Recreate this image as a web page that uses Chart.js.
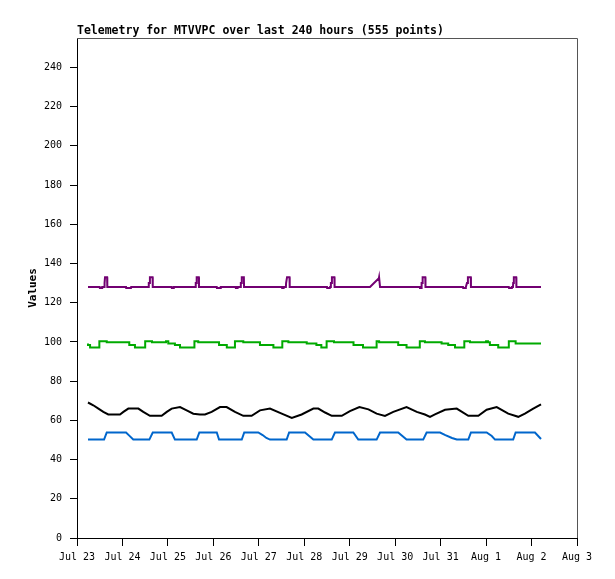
<!DOCTYPE html>
<html>
<head>
<meta charset="utf-8">
<script src="https://cdn.jsdelivr.net/npm/chart.js@4/dist/chart.umd.min.js"></script>
<style>
  body { margin: 0; background: #fff; }
  canvas { display: block; }
</style>
</head>
<body>
<canvas id="telemetry" width="615" height="579"></canvas>
<script>
// hours since Jul 23 00:00
const dayLabels = ['Jul 23', 'Jul 24', 'Jul 25', 'Jul 26', 'Jul 27', 'Jul 28',
  'Jul 29', 'Jul 30', 'Jul 31', 'Aug 1', 'Aug 2', 'Aug 3'];

const purpleHours = [5.8, 12, 12.1, 13.2, 13.3, 14.3, 14.4, 14.7, 14.8, 15.9, 16,
  25.9, 26, 28.5, 28.6, 37.8, 37.9, 38.4, 38.5, 39.9, 40,
  50, 50.1, 51, 51.1, 62.6, 62.7, 63.1, 63.2, 64.3, 64.4,
  73.8, 73.9, 75.8, 75.9, 83.8, 83.9, 84.7, 84.8, 86.4, 86.5, 86.9, 87, 88.1, 88.2,
  108.2, 108.3, 109, 109.1, 110.3, 110.4, 110.8, 110.9, 112.2, 112.3,
  132, 132.1, 133.5, 133.6, 134, 134.1, 134.5, 134.6, 135.9, 136,
  154.7, 159.4, 159.5, 159.9, 160,
  181, 181.1, 181.8, 181.9, 182, 182.4, 182.5, 183.9, 184,
  203.8, 203.9, 205.2, 205.3, 205.9, 206.3, 206.4, 207.9, 208,
  228, 228.1, 229.5, 229.6, 230.2, 230.3, 230.6, 230.7, 231.9, 232, 245];
const purpleValues = [128, 128, 127.5, 127.5, 128, 128, 130, 130, 133, 133, 128,
  128, 127.5, 127.5, 128, 128, 130, 130, 133, 133, 128,
  128, 127.5, 127.5, 128, 128, 130, 130, 133, 133, 128,
  128, 127.5, 127.5, 128, 128, 127.5, 127.5, 128, 128, 130, 130, 133, 133, 128,
  128, 127.5, 127.5, 128, 128, 130, 130, 133, 133, 128,
  128, 127.5, 127.5, 128, 128, 130, 130, 133, 133, 128,
  128, 132.5, 133, 133, 128,
  128, 127.5, 127.5, 128, 130, 130, 133, 133, 128,
  128, 127.5, 127.5, 128, 130, 130, 133, 133, 128,
  128, 127.5, 127.5, 128, 128, 130, 130, 133, 133, 128, 128];

const greenHours = [5.8, 6.9, 11.8, 15.7, 27.6, 30.6, 36, 39.6, 47, 48.2, 51.7, 54.4,
  62, 64, 75, 79.1, 83.4, 87.8, 96.6, 103.7, 108.4, 111.6, 121.3, 126.4, 129,
  131.8, 135.7, 146, 151, 158.2, 159.5, 169.6, 174, 181, 183.7, 192.5, 196,
  199.6, 204.5, 207.5, 216, 217, 218, 222.4, 228, 231.6, 242.7, 245];
const greenValues = [99.2, 98.4, 97.2, 100.4, 99.8, 98.4, 97.2, 100.4, 99.8, 100.4, 99.2, 98.4,
  97.2, 100.4, 99.8, 98.4, 97.2, 100.4, 99.8, 98.4, 97.2, 100.4, 99.8, 99.2, 98.4,
  97.2, 100.4, 99.8, 98.4, 97.2, 100.4, 99.8, 98.4, 97.2, 100.4, 99.8, 99.2,
  98.4, 97.2, 100.4, 99.8, 100.4, 99.8, 98.4, 97.2, 100.4, 99.2, 99.2];

const blackHours = [5.8, 8.6, 11.3, 13.9, 16.5, 22.7, 24.5, 27.1, 32.4, 35, 38.5, 44.7,
  47.4, 50, 54.4, 57.9, 61.4, 64.9, 67.6, 71.1, 75.5, 79, 83.4, 87.8, 92.2, 96.6,
  101.9, 108.1, 113.4, 118.6, 124.8, 127.4, 131, 134.5, 139.8, 144.1, 149.1, 153.9,
  158.2, 162.6, 167, 174, 179.4, 183.7, 186.4, 189, 194.3, 200.5, 206.6, 211.9,
  216.3, 221.6, 227.7, 233, 236.5, 240.9, 245];
const blackValues = [69.1, 67.7, 66, 64.3, 63, 63, 64.3, 66, 66, 64.3, 62.3, 62.3,
  64.3, 66, 66.8, 65.1, 63.4, 63, 63, 64.3, 66.8, 66.8, 64.3, 62.3, 62.3, 65.1,
  66, 63.4, 61.2, 63, 66, 66, 64, 62.3, 62.3, 64.7, 66.8, 65.6,
  63.4, 62.3, 64.3, 66.8, 64.3, 63, 61.8, 63, 65.4, 66, 62.3, 62.3,
  65.4, 66.8, 63.4, 61.8, 63.4, 66, 68.2];

const blueHours = [5.8, 14.3, 15.7, 25.9, 27.6, 29.7, 38.2, 40, 50, 51.7, 63.2, 64.6,
  73.8, 75, 87, 88.3, 95.7, 98, 100, 101.9, 110.7, 112, 120.4, 124.8, 134.5, 136.2,
  145.9, 148.5, 158.2, 160, 169.6, 174, 182.8, 184.6, 191.7, 194.5, 198, 200.5,
  206.6, 208, 216.3, 219, 220.7, 230.3, 231.6, 241.8, 245];
const blueValues = [50.2, 50.2, 53.8, 53.8, 52.2, 50.2, 50.2, 53.8, 53.8, 50.2, 50.2, 53.8,
  53.8, 50.2, 50.2, 53.8, 53.8, 52.5, 51, 50.2, 50.2, 53.8, 53.8, 50.2, 50.2, 53.8,
  53.8, 50.2, 50.2, 53.8, 53.8, 50.2, 50.2, 53.8, 53.8, 52.5, 51, 50.2,
  50.2, 53.8, 53.8, 52, 50.2, 50.2, 53.8, 53.8, 50.5];

const monoFont = "'DejaVu Sans Mono', 'Liberation Mono', monospace";

function toPoints (hours, values) {
  const pts = [];
  for (let i = 0; i < hours.length; i++) {
    pts.push({ x: hours[i], y: values[i] });
  }
  return pts;
}

/**
 * Title, y axis name and the grey top/right frame
 */
const frame = {
  id: 'frame',
  afterDraw (chart) {
    const ctx = chart.ctx;
    const a = chart.chartArea;
    ctx.save();
    ctx.strokeStyle = '#555';
    ctx.lineWidth = 1;
    ctx.beginPath();
    ctx.moveTo(a.left, a.top + 0.5);
    ctx.lineTo(a.right + 0.5, a.top + 0.5);
    ctx.lineTo(a.right + 0.5, a.bottom);
    ctx.stroke();

    ctx.fillStyle = '#000';
    ctx.font = 'bold 11.5px ' + monoFont;
    ctx.textAlign = 'left';
    ctx.textBaseline = 'alphabetic';
    ctx.fillText('Telemetry for MTVVPC over last 240 hours (555 points)', a.left, 34);

    ctx.font = 'bold 11px ' + monoFont;
    ctx.translate(36, (a.top + a.bottom) / 2);
    ctx.rotate(-Math.PI / 2);
    ctx.textAlign = 'center';
    ctx.fillText('Values', 0, 0);
    ctx.restore();
  }
};

const line = (label, color, hours, values, stepped) => ({
  label: label,
  data: toPoints(hours, values),
  borderColor: color,
  backgroundColor: color,
  borderWidth: 2,
  pointRadius: 0,
  tension: 0,
  stepped: stepped
});

const config = {
  type: 'line',
  data: {
    datasets: [
      line('purple', '#720072', purpleHours, purpleValues, false),
      line('green', '#00aa00', greenHours, greenValues, 'after'),
      line('black', '#000000', blackHours, blackValues, false),
      line('blue', '#0066cc', blueHours, blueValues, false)
    ]
  },
  options: {
    responsive: false,
    devicePixelRatio: 1,
    animation: false,
    layout: { padding: { left: 0, top: 38, right: 38, bottom: 0 } },
    plugins: {
      legend: { display: false },
      title: { display: false },
      tooltip: { enabled: false }
    },
    scales: {
      x: {
        type: 'linear',
        min: 0,
        max: 264,
        afterFit: s => { s.height = 41; },
        border: { color: '#000', width: 1 },
        grid: { drawOnChartArea: false, drawTicks: true, tickLength: 8, color: '#000' },
        ticks: {
          stepSize: 24,
          includeBounds: false,
          autoSkip: false,
          maxRotation: 0,
          padding: 5,
          color: '#000',
          font: { family: monoFont, size: 10 },
          callback: v => dayLabels[Math.round(v / 24)]
        }
      },
      y: {
        min: 0,
        max: 255,
        afterFit: s => { s.width = 77; },
        border: { color: '#000', width: 1 },
        grid: { drawOnChartArea: false, drawTicks: true, tickLength: 7, color: '#000' },
        ticks: {
          stepSize: 20,
          includeBounds: false,
          padding: 8,
          color: '#000',
          font: { family: monoFont, size: 10 }
        }
      }
    }
  },
  plugins: [frame]
};

const myChart = new Chart(document.getElementById('telemetry'), config);
</script>
</body>
</html>
